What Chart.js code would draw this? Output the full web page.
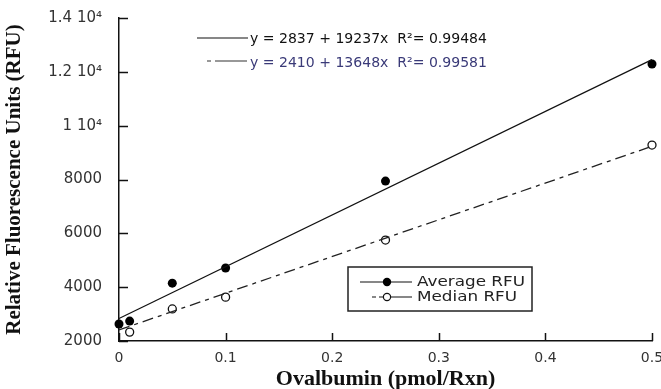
<!DOCTYPE html>
<html>
<head>
<meta charset="utf-8">
<script src="https://cdn.jsdelivr.net/npm/chart.js@4.4.0/dist/chart.umd.min.js"></script>
<style>
html,body{margin:0;padding:0;background:#fff;}
#wrap{width:661px;height:389px;position:relative;}
</style>
</head>
<body>
<div id="wrap"><canvas id="c" width="661" height="389"></canvas></div>
<script>
// ---- data ----
const avgX = [0, 0.01, 0.05, 0.1, 0.25, 0.5];
const avgY = [2630, 2740, 4150, 4710, 7940, 12290];
const medX = [0.01, 0.05, 0.1, 0.25, 0.5];
const medY = [2330, 3190, 3630, 5750, 9280];
const fitAvgX = [0, 0.5];
const fitAvgY = [2837, 12455];
const fitMedX = [0, 0.5];
const fitMedY = [2410, 9234];
const xTicks = [0, 0.1, 0.2, 0.3, 0.4, 0.5];
const yTicks = [2000, 4000, 6000, 8000, 10000, 12000, 14000];
const yTickLabels = ['2000', '4000', '6000', '8000', '1 10\u2074', '1.2 10\u2074', '1.4 10\u2074'];
const seriesNames = ['Average RFU', 'Median RFU'];
const equations = ['y = 2837 + 19237x  R\u00B2= 0.99484', 'y = 2410 + 13648x  R\u00B2= 0.99581'];

const pts = (xs, ys) => xs.map((x, i) => ({x: x, y: ys[i]}));
const DASH = [11, 5, 4, 5];

function stretchedText(ctx, txt, x, y, sx) {
  ctx.save();
  ctx.translate(x, y);
  ctx.scale(sx, 1);
  ctx.fillText(txt, 0, 0);
  ctx.restore();
}

const overlay = {
  id: 'overlay',
  afterDraw(chart) {
    const ctx = chart.ctx;
    const xs = chart.scales.x, ys = chart.scales.y;
    const ca = chart.chartArea;
    ctx.save();
    // inward tick marks
    ctx.strokeStyle = '#111';
    ctx.lineWidth = 1.5;
    ctx.beginPath();
    xTicks.forEach(v => {
      const px = Math.round(xs.getPixelForValue(v)) + 0.5;
      ctx.moveTo(px, ca.bottom); ctx.lineTo(px, ca.bottom - 8);
    });
    yTicks.forEach(v => {
      const py = Math.round(ys.getPixelForValue(v)) + 0.5;
      ctx.moveTo(ca.left, py); ctx.lineTo(ca.left + 9, py);
    });
    ctx.stroke();

    // equations
    ctx.font = '13.5px "DejaVu Sans"';
    ctx.textBaseline = 'middle';
    ctx.textAlign = 'left';
    ctx.lineWidth = 1.2;
    ctx.strokeStyle = '#111';
    ctx.beginPath(); ctx.moveTo(197, 38); ctx.lineTo(248, 38); ctx.stroke();
    ctx.fillStyle = '#111';
    stretchedText(ctx, equations[0], 250, 39, 1.04);
    ctx.strokeStyle = '#333';
    ctx.setLineDash([4, 4, 30, 0]);
    ctx.beginPath(); ctx.moveTo(207, 61); ctx.lineTo(247, 61); ctx.stroke();
    ctx.setLineDash([]);
    ctx.fillStyle = '#3a3a78';
    stretchedText(ctx, equations[1], 250, 63, 1.04);

    // legend box
    ctx.lineWidth = 1.5;
    ctx.strokeStyle = '#222';
    ctx.strokeRect(348, 267, 184, 44);
    ctx.font = '14px "DejaVu Sans"';
    ctx.lineWidth = 1.2;
    ctx.strokeStyle = '#111';
    ctx.beginPath(); ctx.moveTo(360, 282); ctx.lineTo(412, 282); ctx.stroke();
    ctx.beginPath(); ctx.arc(387, 282, 4.2, 0, Math.PI * 2); ctx.fillStyle = '#000'; ctx.fill();
    ctx.fillStyle = '#222';
    stretchedText(ctx, seriesNames[0], 417, 282, 1.2);
    ctx.setLineDash([4, 3, 40, 0]);
    ctx.beginPath(); ctx.moveTo(372, 297); ctx.lineTo(412, 297); ctx.stroke();
    ctx.setLineDash([]);
    ctx.beginPath(); ctx.arc(387, 297, 3.6, 0, Math.PI * 2); ctx.fillStyle = '#fff'; ctx.fill(); ctx.stroke();
    ctx.fillStyle = '#222';
    stretchedText(ctx, seriesNames[1], 417, 297, 1.2);
    ctx.restore();
  }
};

new Chart(document.getElementById('c'), {
  type: 'scatter',
  data: {
    datasets: [
      {label: 'fitAvg', data: pts(fitAvgX, fitAvgY), showLine: true, borderColor: '#111', borderWidth: 1.2, pointRadius: 0, fill: false},
      {label: 'fitMed', data: pts(fitMedX, fitMedY), showLine: true, borderColor: '#222', borderWidth: 1.3, borderDash: DASH, pointRadius: 0, fill: false},
      {label: seriesNames[0], data: pts(avgX, avgY), pointRadius: 4.5, pointBackgroundColor: '#000', pointBorderColor: '#000', borderWidth: 0, showLine: false},
      {label: seriesNames[1], data: pts(medX, medY), pointRadius: 4, pointBackgroundColor: '#fff', pointBorderColor: '#111', pointBorderWidth: 1.3, showLine: false}
    ]
  },
  options: {
    responsive: false,
    animation: false,
    clip: false,
    layout: {padding: {left: 0, right: 9, top: 18, bottom: 0}},
    plugins: {legend: {display: false}, tooltip: {enabled: false}},
    scales: {
      x: {
        type: 'linear', min: 0, max: 0.5,
        afterBuildTicks: s => { s.ticks = xTicks.map(v => ({value: v})); },
        afterFit: s => { s.height = 48; s.paddingLeft = 0; s.paddingRight = 0; },
        grid: {display: false, drawTicks: false, tickLength: 0},
        border: {display: true, color: '#111', width: 1.5},
        ticks: {padding: 9, color: '#333', font: {family: 'DejaVu Sans', size: 14}, maxRotation: 0,
                callback: v => String(v)},
        title: {display: true, text: 'Ovalbumin (pmol/Rxn)', color: '#111', font: {family: 'Liberation Serif', size: 22, weight: 'bold', lineHeight: 1.0}, padding: {top: 0, bottom: -1}}
      },
      y: {
        type: 'linear', min: 2000, max: 14000,
        afterBuildTicks: s => { s.ticks = yTicks.map(v => ({value: v})); },
        afterFit: s => { s.width = 119; s.paddingTop = 0; s.paddingBottom = 0; },
        grid: {display: false, drawTicks: false, tickLength: 0},
        border: {display: true, color: '#111', width: 1.5},
        ticks: {padding: 17, color: '#333', font: {family: 'DejaVu Sans', size: 15},
                callback: v => yTickLabels[yTicks.indexOf(v)]},
        title: {display: true, text: 'Relative Fluorescence Units (RFU)', color: '#111', font: {family: 'Liberation Serif', size: 21, weight: 'bold', lineHeight: 1.2}, padding: {top: 2, bottom: 0}}
      }
    }
  },
  plugins: [overlay]
});
</script>
</body>
</html>
